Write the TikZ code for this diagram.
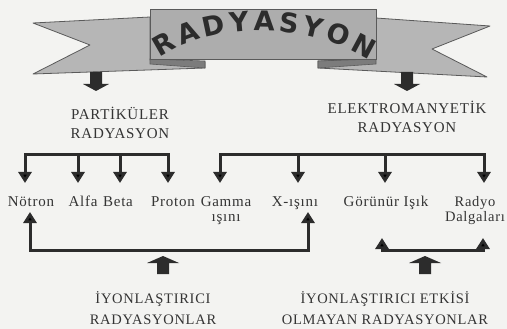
\documentclass[tikz,border=0pt]{standalone}
\usepackage{fontspec}
\setmainfont{Liberation Serif}[LetterSpace=5]
\newfontfamily\titlefont{DejaVu Sans}
\usetikzlibrary{arrows.meta,decorations.text}
\definecolor{paper}{HTML}{F3F3F1}
\definecolor{ink}{HTML}{2C2C2C}
\definecolor{txt}{HTML}{343434}
\definecolor{ribbonc}{HTML}{B6B6B6}
\definecolor{panelc}{HTML}{ADADAD}
\definecolor{foldc}{HTML}{7C7C7C}
\definecolor{edgec}{HTML}{5A5A5A}
\begin{document}
\begin{tikzpicture}[x=1pt,y=-1pt,
  lbl/.style={font=\fontsize{15}{15}\selectfont, text=txt, inner sep=0pt, align=center, anchor=base},
  headtxt/.style={font=\fontsize{15}{19}\selectfont, text=txt, inner sep=0pt, align=center},
  link/.style={draw=ink, line width=3pt, -{Triangle[width=13pt,length=11pt]}},
  ribbon/.style={fill=ribbonc, draw=edgec, line width=0.8pt, line join=round},
  panel/.style={fill=panelc, draw=edgec, line width=0.8pt},
  fold/.style={fill=foldc, draw=edgec, line width=0.6pt},
  blockarrow/.style={fill=ink}]
\fill[paper] (0,0) rectangle (507,329);
\useasboundingbox (0,0) rectangle (507,329);
% banner
\filldraw[ribbon] (33,23) -- (150,17) -- (150,60) -- (205,62) -- (205,68) -- (33,74) -- (90,45) -- cycle;
\filldraw[fold] (150,59) -- (205,61) -- (205,68) -- (150,64) -- cycle;
\filldraw[ribbon] (376,18) -- (490,26) -- (432,49) -- (487,77) -- (318,68) -- (318,61) -- (376,59) -- cycle;
\filldraw[fold] (318,61) -- (376,59) -- (376,64) -- (318,68) -- cycle;
\filldraw[panel] (150,9) rectangle (376,59);
\path[decorate, decoration={text along path,
   text={|\titlefont\bfseries\fontsize{27}{27}\selectfont|RADYASYON},
   text align={fit to path}, text color=ink}]
   (160,58) .. controls (214,21) and (306,21) .. (369,60);
% block arrows from banner
\fill[blockarrow] (90,72) -- (102,72) -- (102,84) -- (109,84) -- (96,91) -- (83,84) -- (90,84) -- cycle;
\fill[blockarrow] (401,72) -- (413,72) -- (413,84) -- (420,84) -- (407,91) -- (394,84) -- (401,84) -- cycle;
% headings
\node[headtxt] (part) at (120,123) {PARTİKÜLER\\RADYASYON};
\node[headtxt] (elek) at (407,117) {ELEKTROMANYETİK\\RADYASYON};
% row labels
\node[lbl] (notron) at (31,207) {Nötron};
\node[lbl] (alfa) at (83,207) {Alfa};
\node[lbl] (beta) at (118,207) {Beta};
\node[lbl] (proton) at (173,207) {Proton};
\node[lbl] (gamma) at (226,222) {Gamma\\ışını};
\node[lbl] (xray) at (295,207) {X-ışını};
\node[lbl] (gorunur) at (386,207) {Görünür Işık};
\node[lbl, font=\fontsize{14.5}{15}\selectfont] (radyo) at (475,222) {Radyo\\Dalgaları};
% top bracket coordinates
\coordinate (pm) at (96,155);
\coordinate (pAlf) at (78,155);
\coordinate (pBet) at (120,155);
\coordinate (tNot) at (25,183);
\coordinate (tAlf) at (78,183);
\coordinate (tBet) at (120,183);
\coordinate (tPro) at (168,183);
\draw[link] (pm) -| (tNot);
\draw[link] (pm) -| (tPro);
\draw[link] (pAlf) -- (tAlf);
\draw[link] (pBet) -- (tBet);
\coordinate (em) at (407,155);
\coordinate (eX) at (298,155);
\coordinate (eG) at (385,155);
\coordinate (tGam) at (220,183);
\coordinate (tX) at (298,183);
\coordinate (tGor) at (385,183);
\coordinate (tRad) at (484,183);
\draw[link] (em) -| (tGam);
\draw[link] (em) -| (tRad);
\draw[link] (eX) -- (tX);
\draw[link] (eG) -- (tGor);
% bottom brackets
\coordinate (im) at (163,250);
\coordinate (uNot) at (30,212);
\coordinate (uX) at (308,212);
\draw[link] (im) -| (uNot);
\draw[link] (im) -| (uX);
\coordinate (nm) at (425,250);
\coordinate (uGor) at (382,238);
\coordinate (uRad) at (483,238);
\draw[link] (nm) -| (uGor);
\draw[link] (nm) -| (uRad);
% block arrows from bottom captions
\fill[blockarrow] (157,274) -- (169,274) -- (169,263) -- (179,263) -- (163,256) -- (147,263) -- (157,263) -- cycle;
\fill[blockarrow] (419,274) -- (431,274) -- (431,263) -- (441,263) -- (425,256) -- (409,263) -- (419,263) -- cycle;
% bottom captions
\node[headtxt, font=\fontsize{14.5}{21}\selectfont] (ion) at (153,308) {İYONLAŞTIRICI\\RADYASYONLAR};
\node[headtxt, font=\fontsize{14.5}{21}\selectfont] (nonion) at (385,308) {İYONLAŞTIRICI ETKİSİ\\OLMAYAN RADYASYONLAR};
\end{tikzpicture}
\end{document}
